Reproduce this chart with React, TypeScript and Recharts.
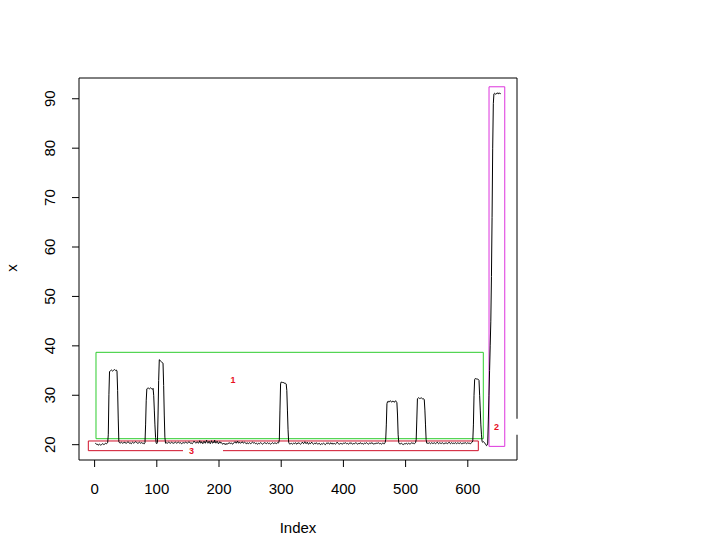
import { LineChart, Line, XAxis, YAxis, ReferenceArea } from "recharts";

// series pieces, in index order (Index 1..653)
const base1 = [
  20.3, 20.2, 20.1, 20.0, 20.1, 19.9, 20.0, 20.1, 20.0, 19.9, 20.0, 20.1, 20.2, 20.1, 20.0, 20.1, 20.2, 20.3, 20.2, 20.3,
  20.4,
];
const peak1 = [22.0, 30.1, 34.8, 34.9, 35.0, 35.1, 35.0, 34.9, 35.0, 35.1, 35.2, 35.1, 35.0, 35.1, 34.9, 31.0, 25.2, 20.6];
const base2 = [
  20.4, 20.3, 20.4, 20.5, 20.4, 20.3, 20.4, 20.4, 20.5, 20.3, 20.4, 20.3, 20.4, 20.5, 20.6, 20.4, 20.3, 20.4, 20.3, 20.2,
  20.4, 20.5, 20.4, 20.3, 20.4, 20.5, 20.6, 20.5, 20.4, 20.3, 20.3, 20.4, 20.5, 20.4, 20.3, 20.4, 20.4, 20.3, 20.2, 20.3,
  20.2, 20.4,
];
const peak2 = [
  24.0, 29.0, 31.3, 31.4, 31.5, 31.4, 31.3, 31.4, 31.5, 31.4, 31.3, 31.2, 31.4, 30.0, 27.0, 24.0, 21.5, 20.3, 20.2, 20.4,
  26.0, 33.0, 37.2, 37.1, 36.9, 36.8, 36.7, 36.6, 36.5, 32.0, 26.0, 21.5, 20.3,
];
const base3 = [
  20.3, 20.4, 20.3, 20.4, 20.5, 20.4, 20.4, 20.3, 20.4, 20.5, 20.4, 20.3, 20.3, 20.4, 20.4, 20.5, 20.4, 20.3, 20.4, 20.4,
  20.5, 20.4, 20.3, 20.4, 20.3, 20.2, 20.3, 20.4, 20.4, 20.3, 20.4, 20.5, 20.4, 20.4, 20.3, 20.4, 20.5, 20.6, 20.4, 20.3,
  20.4, 20.3, 20.2, 20.4, 20.5, 20.7, 20.5, 20.4, 20.3, 20.4, 20.6, 20.4, 20.3, 20.5, 20.8, 20.4, 20.3, 20.6, 20.4, 20.2,
  20.5, 20.7, 20.4, 20.3, 20.6, 20.9, 20.5, 20.3, 20.4, 20.7, 20.4, 20.2, 20.5, 20.8, 20.4, 20.3, 20.6, 20.4, 20.9, 20.5,
  20.3, 20.5, 20.7, 20.4, 20.2, 20.4, 20.6, 20.3, 20.5, 20.4, 20.2, 20.1, 20.2, 20.3, 20.1, 20.2, 20.0, 20.2, 20.1, 20.2,
  20.3, 20.2, 20.4, 20.3, 20.2, 20.3, 20.2, 20.1, 20.3, 20.4, 20.5, 20.4, 20.6, 20.3, 20.5, 20.7, 20.4, 20.3, 20.5, 20.4,
  20.3, 20.4, 20.6, 20.5, 20.3, 20.4, 20.5, 20.4, 20.3, 20.2, 20.4, 20.3, 20.2, 20.3, 20.4, 20.3, 20.2, 20.3, 20.4, 20.5,
  20.4, 20.3, 20.4, 20.3, 20.2, 20.3, 20.2, 20.1, 20.2, 20.3, 20.2, 20.3, 20.4, 20.3, 20.2, 20.1, 20.2, 20.3, 20.4, 20.3,
  20.3, 20.2, 20.3, 20.4, 20.3, 20.2, 20.3, 20.2, 20.1, 20.2, 20.3, 20.4, 20.3, 20.2, 20.3, 20.4, 20.3, 20.2, 20.3, 20.4,
  20.3, 20.4,
];
const peak4 = [21.0, 27.0, 32.3, 32.7, 32.6, 32.6, 32.5, 32.6, 32.4, 32.5, 32.4, 32.3, 31.0, 27.0, 23.0, 20.5];
const base4 = [
  20.2, 20.1, 20.2, 20.3, 20.2, 20.1, 20.2, 20.3, 20.2, 20.3, 20.4, 20.2, 20.1, 20.3, 20.2, 20.4, 20.3, 20.2, 20.1, 20.2,
  20.3, 20.5, 20.3, 20.2, 20.4, 20.6, 20.3, 20.2, 20.3, 20.5, 20.2, 20.1, 20.3, 20.4, 20.2, 20.3, 20.5, 20.3, 20.2, 20.1,
  20.2, 20.3, 20.2, 20.4, 20.3, 20.2, 20.1, 20.2, 20.3, 20.2, 20.0, 20.1, 20.2, 20.1, 20.2, 20.3, 20.2, 20.1, 20.0, 20.2,
  20.3, 20.2, 20.4, 20.3, 20.2, 20.1, 20.3, 20.4, 20.2, 20.3, 20.1, 20.2, 20.3, 20.2, 20.1, 20.2, 20.3, 20.5, 20.3, 20.2,
  20.2, 20.1, 20.2, 20.3, 20.2, 20.1, 20.2, 20.3, 20.2, 20.3, 20.4, 20.3, 20.2, 20.3, 20.2, 20.1, 20.2, 20.3, 20.4, 20.2,
  20.3, 20.2, 20.1, 20.2, 20.3, 20.2, 20.3, 20.4, 20.3, 20.2, 20.1, 20.2, 20.3, 20.2, 20.4, 20.3, 20.2, 20.3, 20.2, 20.1,
  20.2, 20.3, 20.2, 20.3, 20.4, 20.3, 20.2, 20.1, 20.2, 20.3, 20.2, 20.3, 20.4, 20.2, 20.3, 20.2, 20.1, 20.2, 20.3, 20.2,
  20.3, 20.2, 20.3, 20.4, 20.3, 20.2, 20.3, 20.2, 20.1, 20.2, 20.3, 20.2, 20.3, 20.2, 20.4,
];
const peak5 = [
  21.0, 24.0, 28.3, 28.7, 28.8, 28.6, 28.7, 28.9, 28.8, 28.7, 28.6, 28.8, 28.7, 28.8, 28.6, 28.7, 28.9, 28.7, 28.5, 26.0,
  22.0, 20.4,
];
const base5 = [
  20.2, 20.1, 20.2, 20.3, 20.2, 20.1, 20.0, 20.1, 20.2, 20.1, 20.2, 20.3, 20.2, 20.1, 20.2, 20.3, 20.2, 20.1, 20.2, 20.3,
  20.4, 20.3, 20.2, 20.3, 20.2, 20.3, 20.4,
];
const peak6 = [21.0, 25.0, 29.3, 29.4, 29.5, 29.4, 29.3, 29.4, 29.5, 29.4, 29.3, 29.2, 29.3, 29.1, 27.0, 24.0, 21.0, 20.3];
const base6 = [
  20.3, 20.2, 20.3, 20.4, 20.3, 20.2, 20.3, 20.4, 20.3, 20.2, 20.3, 20.4, 20.3, 20.2, 20.3, 20.4, 20.5, 20.3, 20.2, 20.3,
  20.4, 20.3, 20.2, 20.3, 20.4, 20.3, 20.2, 20.3, 20.2, 20.3, 20.4, 20.3, 20.2, 20.3, 20.4, 20.5, 20.3, 20.2, 20.3, 20.4,
  20.3, 20.2, 20.3, 20.2, 20.3, 20.4, 20.3, 20.2, 20.3, 20.4, 20.3, 20.2, 20.3, 20.4, 20.3, 20.2, 20.3, 20.2, 20.3, 20.4,
  20.3, 20.4, 20.3, 20.2, 20.3, 20.4, 20.3, 20.2, 20.3, 20.2, 20.3, 20.4, 20.5, 20.8,
];
const peak7 = [
  24.0, 30.0, 33.2, 33.4, 33.3, 33.3, 33.2, 33.3, 33.2, 33.0, 30.0, 27.0, 24.0, 22.0, 20.6, 20.5, 20.6, 20.5, 20.4, 20.2,
  20.0, 19.8, 19.9, 20.3, 25.0, 30.0, 35.0, 40.0, 45.0, 54.0, 66.0, 80.0, 89.0, 91.0, 91.1, 91.0, 90.9, 91.0, 91.2, 91.1,
  91.0, 91.2, 91.1, 91.0, 91.1,
];

const series = [
  ...base1, ...peak1, ...base2, ...peak2, ...base3, ...peak4, ...base4,
  ...peak5, ...base5, ...peak6, ...base6, ...peak7,
];

const xTicks = [0, 100, 200, 300, 400, 500, 600];
const yTicks = [20, 30, 40, 50, 60, 70, 80, 90];
const xDomain = [-25.08, 679.08];
const yDomain = [16.9, 94.2];

// boxes drawn over the series: [x1, x2, y1, y2]
const box1 = [2.25, 624.9, 21.21, 38.69];
const box2 = [634.1, 659.4, 19.66, 92.42];
const box3 = [-10.1, 616.9, 18.79, 20.75];
// white label patches: [x1, x2, y1, y2]
const tag1 = [209, 262, 31.5, 34.8];
const tag2 = [634.1, 685.6, 22.02, 25.26];
const tag3 = [142.1, 206.4, 17.37, 20.0];

const data = series.map((v, i) => ({ index: i + 1, x: v }));

const font = "'Liberation Sans', Arial, sans-serif";
const red = "#e8101f";

function YTick(props: any) {
  const { x, y, payload } = props;
  const bx = x - 15;
  return (
    <text x={bx} y={y} transform={`rotate(-90, ${bx}, ${y})`} textAnchor="middle" fontSize={15} fill="#000" fontFamily={font}>
      {payload.value}
    </text>
  );
}

const tagLabel = (value: string, offset: number) => ({
  value,
  position: "insideLeft" as const,
  offset,
  fill: red,
  fontSize: 9,
  fontWeight: "bold",
  fontFamily: font,
});

export default function App() {
  return (
    <div style={{ position: "absolute", left: 0, top: 0, background: "#fff" }}>
      <LineChart
        width={724}
        height={557}
        data={data}
        margin={{ top: 78, right: 207, bottom: 37, left: 19 }}
        style={{ fontFamily: font }}
      >
        <XAxis
          type="number"
          dataKey="index"
          domain={xDomain}
          ticks={xTicks}
          allowDataOverflow
          axisLine={false}
          tickSize={7}
          tickMargin={16}
          height={60}
          tick={{ fill: "#000", fontSize: 15, fontFamily: font }}
          tickLine={{ stroke: "#000" }}
          label={{
            content: () => (
              <text x={298} y={533} textAnchor="middle" fontSize={15} fill="#000" fontFamily={font}>
                Index
              </text>
            ),
          }}
        />
        <YAxis
          type="number"
          domain={yDomain}
          ticks={yTicks}
          allowDataOverflow
          axisLine={false}
          tickSize={7}
          width={60}
          tick={<YTick />}
          tickLine={{ stroke: "#000" }}
          label={{
            content: () => (
              <text x={17} y={268} transform="rotate(-90, 17, 268)" textAnchor="middle" fontSize={15} fill="#000" fontFamily={font}>
                x
              </text>
            ),
          }}
        />
        <Line
          type="linear"
          dataKey="x"
          stroke="#000"
          strokeWidth={1}
          dot={false}
          activeDot={false}
          isAnimationActive={false}
        />
        <ReferenceArea x1={xDomain[0]} x2={xDomain[1]} y1={yDomain[0]} y2={yDomain[1]} fill="none" stroke="#000" strokeWidth={1} ifOverflow="visible" />
        <ReferenceArea x1={box1[0]} x2={box1[1]} y1={box1[2]} y2={box1[3]} fill="none" stroke="#2ecc2e" strokeWidth={1} ifOverflow="visible" />
        <ReferenceArea x1={box3[0]} x2={box3[1]} y1={box3[2]} y2={box3[3]} fill="none" stroke="#d0102a" strokeWidth={1} ifOverflow="visible" />
        <ReferenceArea x1={tag1[0]} x2={tag1[1]} y1={tag1[2]} y2={tag1[3]} fill="#fff" fillOpacity={1} stroke="none" ifOverflow="visible" label={tagLabel("1", 6)} />
        <ReferenceArea x1={tag3[0]} x2={tag3[1]} y1={tag3[2]} y2={tag3[3]} fill="#fff" fillOpacity={1} stroke="none" ifOverflow="visible" label={tagLabel("3", 6)} />
        <ReferenceArea x1={tag2[0]} x2={tag2[1]} y1={tag2[2]} y2={tag2[3]} fill="#fff" fillOpacity={1} stroke="none" ifOverflow="visible" label={tagLabel("2", 5)} />
        <ReferenceArea x1={box2[0]} x2={box2[1]} y1={box2[2]} y2={box2[3]} fill="none" stroke="#dd33dd" strokeWidth={1} ifOverflow="visible" />
      </LineChart>
    </div>
  );
}
